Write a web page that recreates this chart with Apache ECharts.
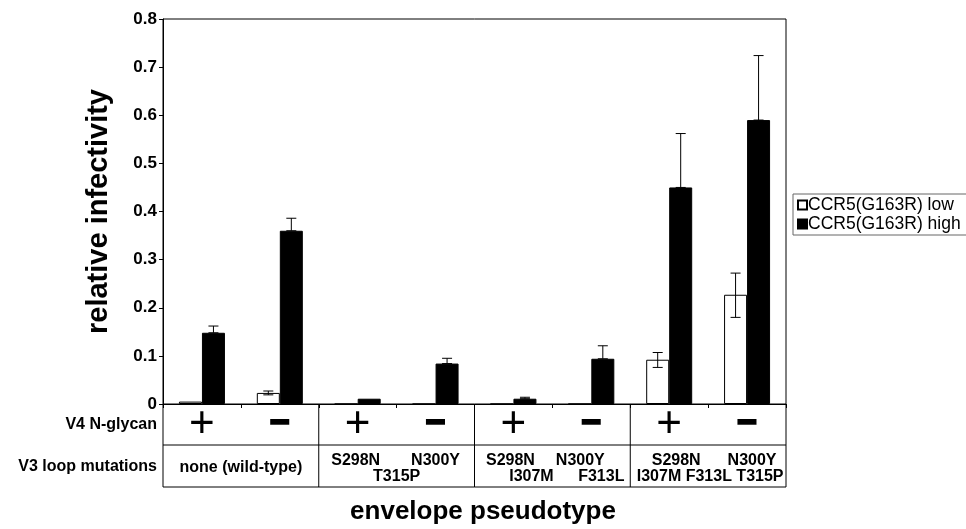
<!DOCTYPE html>
<html>
<head>
<meta charset="utf-8">
<script src="https://cdn.jsdelivr.net/npm/echarts@6/dist/echarts.min.js"></script>
<style>
  html, body { margin: 0; padding: 0; background: #fff; }
  #chart { width: 966px; height: 529px; }
</style>
</head>
<body>
<div id="chart"></div>
<script>
// data
var categories = ['c1', 'c2', 'c3', 'c4', 'c5', 'c6', 'c7', 'c8'];
var glycan = ['+', '−', '+', '−', '+', '−', '+', '−'];
var lowValues = [0.005, 0.023, 0, 0, 0, 0, 0.092, 0.227];
var highValues = [0.148, 0.36, 0.011, 0.084, 0.011, 0.094, 0.45, 0.59];
// error bars [category, lower, upper]
var lowErr = [[1, 0.019, 0.027], [6, 0.076, 0.107], [7, 0.18, 0.272]];
var highErr = [[0, 0.148, 0.162], [1, 0.36, 0.386], [3, 0.084, 0.095], [4, 0.011, 0.014],
               [5, 0.094, 0.121], [6, 0.45, 0.562], [7, 0.59, 0.724]];
var yTicks = { min: 0, max: 0.8, interval: 0.1 };

var FONT = 'Liberation Sans, Arial, sans-serif';
var BAR_W = 23;
var chart = echarts.init(document.getElementById('chart'), null, { renderer: 'canvas' });

function errRender(side) {
    return function (params, api) {
        var lo = api.coord([api.value(0), api.value(1)]);
        var hi = api.coord([api.value(0), api.value(2)]);
        var x = lo[0] + side * BAR_W / 2;
        var cap = 5;
        var st = { stroke: '#000', lineWidth: 1 };
        return {
            type: 'group',
            children: [
                { type: 'line', shape: { x1: x, y1: lo[1], x2: x, y2: hi[1] }, style: st },
                { type: 'line', shape: { x1: x - cap, y1: hi[1], x2: x + cap, y2: hi[1] }, style: st },
                { type: 'line', shape: { x1: x - cap, y1: lo[1], x2: x + cap, y2: lo[1] }, style: st }
            ]
        };
    };
}

var option = {
    backgroundColor: '#fff',
    animation: false,
    grid: { left: 163, right: 180, top: 19, bottom: 125, show: true, borderColor: '#000', borderWidth: 1 },
    legend: {
        orient: 'vertical',
        left: 793, top: 194,
        itemWidth: 9, itemHeight: 9, itemGap: 1,
        padding: [2, 80, 2, 4],
        borderColor: '#666', borderWidth: 1,
        textStyle: { fontFamily: FONT, fontSize: 17.5, color: '#000', padding: [0, 0, 0, -4] },
        data: [
            { name: 'CCR5(G163R) low', icon: 'rect' },
            { name: 'CCR5(G163R) high', icon: 'rect' }
        ]
    },
    xAxis: {
        type: 'category',
        data: categories,
        axisLine: { lineStyle: { color: '#000' } },
        axisTick: { show: true, length: 4, lineStyle: { color: '#000' } },
        axisLabel: { show: false },
        splitLine: { show: false }
    },
    yAxis: {
        type: 'value',
        min: yTicks.min, max: yTicks.max, interval: yTicks.interval,
        name: 'relative infectivity',
        nameLocation: 'middle',
        nameGap: 50,
        nameTextStyle: { fontFamily: FONT, fontSize: 29, fontWeight: 'bold', color: '#000' },
        axisLine: { show: true, lineStyle: { color: '#000' } },
        axisTick: { show: true, length: 4, lineStyle: { color: '#000' } },
        axisLabel: { fontFamily: FONT, fontSize: 17, fontWeight: 'bold', color: '#000', margin: 6 },
        splitLine: { show: false }
    },
    series: [
        {
            name: 'CCR5(G163R) low', type: 'bar', data: lowValues,
            barWidth: BAR_W, barGap: '0%',
            itemStyle: { color: '#fff', borderColor: '#000', borderWidth: 1 }
        },
        {
            name: 'CCR5(G163R) high', type: 'bar', data: highValues,
            barWidth: BAR_W, barGap: '0%',
            itemStyle: { color: '#000', borderColor: '#000', borderWidth: 1 }
        },
        { type: 'custom', renderItem: errRender(-1), data: lowErr, z: 5, silent: true },
        { type: 'custom', renderItem: errRender(1), data: highErr, z: 5, silent: true }
    ]
};
chart.setOption(option);

// table beneath the axis, placed from the axis scale
function cpx(i) { return chart.convertToPixel({ xAxisIndex: 0 }, i); }
var y0 = chart.convertToPixel({ yAxisIndex: 0 }, 0);
var step = cpx(1) - cpx(0);
var left = cpx(0) - step / 2;
var right = left + step * categories.length;
var row1 = y0 + 41, row2 = y0 + 83;
var g = [];
var ls = { stroke: '#000', lineWidth: 1 };
g.push({ type: 'line', shape: { x1: left, y1: y0, x2: left, y2: row2 }, style: ls });
g.push({ type: 'line', shape: { x1: left, y1: row1, x2: right, y2: row1 }, style: ls });
g.push({ type: 'line', shape: { x1: left, y1: row2, x2: right, y2: row2 }, style: ls });
for (var k = 1; k <= 4; k++) {
    var xx = left + step * 2 * k;
    g.push({ type: 'line', shape: { x1: xx, y1: y0, x2: xx, y2: row2 }, style: ls });
}
function txt(x, y, s, size, weight, align, extra) {
    var st = {
        text: s, fontFamily: FONT, fontSize: size, fontWeight: weight || 'bold',
        fill: '#000', align: align || 'center', verticalAlign: 'middle' };
    if (extra) for (var p in extra) st[p] = extra[p];
    g.push({ type: 'text', x: x, y: y, style: st });
}
for (var i = 0; i < categories.length; i++) {
    if (glycan[i] === '+') txt(cpx(i), y0 + 21, '+', 44, 'normal');
    else txt(cpx(i), y0 + 20, '−', 34, 'bold', 'center', { stroke: '#000', lineWidth: 2 });
}
txt(left - 6, y0 + 21, 'V4 N-glycan', 16, 'bold', 'right');
txt(left - 6, y0 + 63, 'V3 loop mutations', 16, 'bold', 'right');
txt((cpx(0) + cpx(1)) / 2, y0 + 64, 'none (wild-type)', 16);
txt(cpx(2) - 2, y0 + 57, 'S298N', 16);
txt(cpx(3), y0 + 57, 'N300Y', 16);
txt((cpx(2) + cpx(3)) / 2, y0 + 73, 'T315P', 16);
txt(cpx(4) - 3, y0 + 57, 'S298N', 16);
txt(cpx(5) - 11, y0 + 57, 'N300Y', 16);
txt(cpx(4) + 18, y0 + 73, 'I307M', 16);
txt(cpx(5) + 10, y0 + 73, 'F313L', 16);
txt(cpx(6) + 7, y0 + 57, 'S298N', 16);
txt(cpx(7) + 5, y0 + 57, 'N300Y', 16);
txt((cpx(6) + cpx(7)) / 2 + 2, y0 + 73, 'I307M F313L T315P', 16);
txt(483, 512, 'envelope pseudotype', 26);
chart.setOption({ graphic: g });
</script>
</body>
</html>
